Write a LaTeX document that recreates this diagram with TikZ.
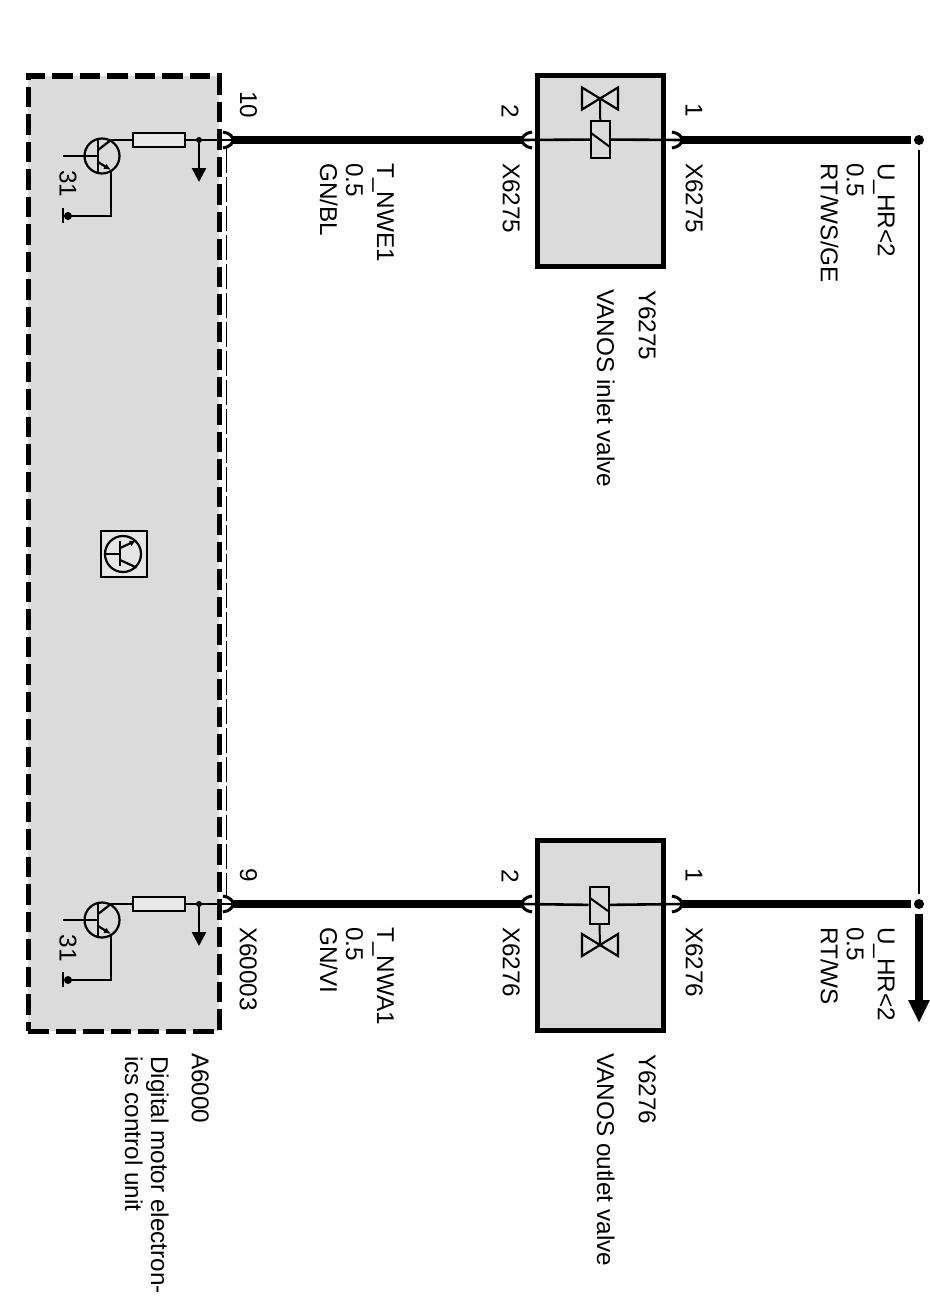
\documentclass[tikz,border=0pt]{standalone}
\usepackage{fontspec}
\setmainfont{Liberation Sans}
\usetikzlibrary{arrows.meta}

\begin{document}
\begin{tikzpicture}[x=1pt,y=-1pt]

\definecolor{boxgrey}{HTML}{DBDBDB}
\tikzset{label/.style = {rotate=-90,anchor=north west,inner sep=0pt,align=left,font=\fontsize{24.3}{26}\selectfont}}
\tikzset{pinno/.style = {rotate=-90,anchor=center,inner sep=0pt,font=\fontsize{24.3}{26}\selectfont}}
\tikzset{part/.style = {shape=rectangle,draw,line width=5pt,fill=boxgrey,minimum width=126.5pt,minimum height=190.5pt}}
\tikzset{ecu/.style = {shape=rectangle,draw,line width=5pt,fill=boxgrey,dash pattern=on 20.5pt off 7pt,minimum width=191pt,minimum height=955pt}}
\tikzset{coil/.style = {shape=rectangle,draw,line width=2pt,fill=boxgrey,minimum width=19pt,minimum height=37pt}}
\tikzset{resistor/.style = {shape=rectangle,draw,line width=2.2pt,fill=boxgrey!60,minimum width=52pt,minimum height=14pt}}
\tikzset{dot/.style = {shape=circle,fill,inner sep=0pt,minimum size=10pt}}
\tikzset{wire/.style = {line width=8pt}}
\tikzset{thinwire/.style = {line width=2.6pt}}
\tikzset{socketl/.pic = {\draw[line width=3pt] (10,-8) .. controls (3,-7) and (0,-3) .. (0,0) .. controls (0,3) and (3,7) .. (10,8);}}
\tikzset{socketr/.pic = {\draw[line width=3pt] (-10,-8) .. controls (-3,-7) and (0,-3) .. (0,0) .. controls (0,3) and (-3,7) .. (-10,8);}}
\tikzset{valve/.pic = {\draw[line width=2.2pt] (-18,-11) -- (-18,11) -- (18,-11) -- (18,11) -- cycle;}}
\tikzset{driver/.pic = {
  \draw[line width=2.2pt] (0,0) circle (17.5);
  \draw[line width=2.2pt] (-39,0) -- (-4,0);
  \draw[line width=2.6pt] (-4,-16) -- (-4,16);
  \coordinate (-c) at (9,-16);
  \draw[line width=2.2pt] (-4,-6) -- (-c);
  \draw[line width=2.2pt,-{Latex[length=7pt,width=6pt]}] (-4,6) -- (9,14);
  \draw[line width=2.2pt] (9,14) -- (9,60) -- (-34,60);
  \node[shape=circle,fill,inner sep=0pt,minimum size=8pt] at (-34,60) {};
  \draw[line width=2.2pt] (-39,52) -- (-39,67);
  \node[pinno] at (-34,28) {31};
}}

\useasboundingbox (0,0) rectangle (929,1314);

%control unit
\node[ecu] (unit) at (123.5,553.5) {};
\node[shape=rectangle,draw,line width=2pt,fill=boxgrey!70,minimum size=46pt] (icon) at (123.5,554) {};
\node[shape=circle,draw,line width=2.2pt,minimum size=36pt,inner sep=0pt] (iconring) at (123,554) {};
\draw[line width=2.2pt] (iconring.west) -- (120,554);
\draw[line width=2.6pt] (120,541) -- (120,566);
\draw[line width=2.2pt,-{Latex[length=7pt,width=6pt]}] (120,548) -- (iconring.north east);
\draw[line width=2.2pt] (120,560) -- (iconring.south east);

%valves
\node[part] (inlet) at (600.5,171) {};
\node[part] (outlet) at (600.5,935.5) {};
\node[coil] (coilin) at (600.5,139.5) {};
\node[coil] (coilout) at (599,905) {};
\draw[line width=2pt] (591,133) -- (610,147);
\draw[line width=2pt] (590,898) -- (608,911);
\pic (vin) at (600,98.5) {valve};
\pic (vout) at (600,945) {valve};
\coordinate (apexin) at (600,98.5);
\coordinate (apexout) at (600,945);
\draw[line width=2pt] (apexin) -- (coilin);
\draw[line width=2pt] (apexout) -- (coilout);

%pins
\coordinate (in2) at (522,140);
\coordinate (in1) at (682,140);
\coordinate (out2) at (522,904);
\coordinate (out1) at (682,904);
\coordinate (ecu10) at (233,140);
\coordinate (ecu9) at (233,904);
\pic at (in2) {socketl};
\pic at (in1) {socketr};
\pic at (out2) {socketl};
\pic at (out1) {socketr};
\pic at (ecu10) {socketr};
\pic at (ecu9) {socketr};

%driver stages
\pic (tr10) at (102,156) {driver};
\pic (tr9) at (102,920) {driver};
\node[resistor] (r10) at (159,140) {};
\node[resistor] (r9) at (159,904) {};
\node[dot,minimum size=6pt] (j10) at (199,140) {};
\node[dot,minimum size=6pt] (j9) at (199,904) {};
\coordinate (g10) at (199,182);
\coordinate (g9) at (199,946);
\draw[thinwire] (tr10-c) -- (r10);
\draw[thinwire] (tr9-c) -- (r9);
\draw[thinwire] (r10) -- (j10) -- (ecu10);
\draw[thinwire] (r9) -- (j9) -- (ecu9);
\draw[thinwire,-{Triangle[length=14pt,width=14pt]}] (j10) -- (g10);
\draw[thinwire,-{Triangle[length=14pt,width=14pt]}] (j9) -- (g9);

%wires
\node[dot] (hr1) at (919,140) {};
\node[dot] (hr2) at (919,904) {};
\coordinate (hrout) at (919,1023);
\draw[wire] (ecu10) -- (in2);
\draw[wire] (ecu9) -- (out2);
\draw[wire,shorten >=3pt] (in1) -- (hr1);
\draw[wire,shorten >=3pt] (out1) -- (hr2);
\draw[thinwire] (in2) -- (coilin);
\draw[thinwire] (coilin) -- (in1);
\draw[thinwire] (out2) -- (coilout);
\draw[thinwire] (coilout) -- (out1);
\draw[thinwire,shorten <=5pt,shorten >=5pt] (hr1) -- (hr2);
\draw[wire,shorten <=5pt,-{Triangle[length=23pt,width=20pt]}] (hr2) -- (hrout);
\coordinate (scrA) at (226.5,148);
\coordinate (scrB) at (226.5,896);
\draw[line width=1.5pt,dash pattern=on 25pt off 4pt] (scrA) -- (scrB);

%pin numbers
\node[pinno] (n10) at (248.5,105) {10};
\node[pinno] (n9) at (248.5,875) {9};
\node[pinno] (n2a) at (510,111) {2};
\node[pinno] (n1a) at (694,110.5) {1};
\node[pinno] (n2b) at (510,876) {2};
\node[pinno] (n1b) at (694,875.5) {1};

%labels
\node[label] (xa) at (520,163) {X6275};
\node[label] (xb) at (703,163) {X6275};
\node[label] (xc) at (520,927) {X6276};
\node[label] (xd) at (703,927) {X6276};
\node[label] (xe) at (257,927) {X60003};
\node[label] (sa) at (895,163) {U\_HR<2\\[5pt]0.5\\RT/WS/GE};
\node[label] (sb) at (895,927) {U\_HR<2\\[5pt]0.5\\RT/WS};
\node[label] (sc) at (394,163) {T\_NWE1\\[5pt]0.5\\GN/BL};
\node[label] (sd) at (394,927) {T\_NWA1\\[5pt]0.5\\GN/VI};
\node[label] (ya) at (656,290) {Y6275};
\node[label] (va) at (615,289) {VANOS inlet valve};
\node[label] (yb) at (656,1054) {Y6276};
\node[label] (vb) at (615,1053) {VANOS outlet valve};
\node[label] (ua) at (209,1053) {A6000};
\node[label] (ub) at (169,1056) {Digital motor electron-\\ics control unit};

\end{tikzpicture}
\end{document}
